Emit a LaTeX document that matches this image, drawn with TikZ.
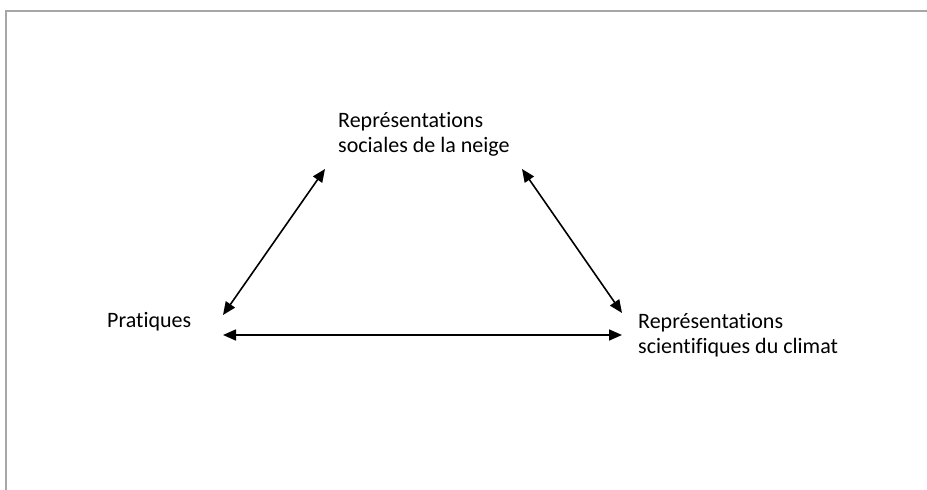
\documentclass[tikz,border=0pt]{standalone}
\usepackage{fontspec}
\setmainfont{Carlito}[Ligatures=NoCommon]
\usetikzlibrary{arrows.meta}
\begin{document}
\begin{tikzpicture}[x=1pt,y=-1pt,
  lbl/.style={anchor=base west,inner sep=0pt,font=\fontsize{22}{25}\selectfont},
  link/.style={line width=1.6pt,{Triangle[length=13pt,width=11pt]}-{Triangle[length=13pt,width=11pt]}}]
\useasboundingbox (0,0) rectangle (927,490);
\fill[white] (0,0) rectangle (927,490);
\draw[line width=2pt,color=black!35] (6,490) -- (6,11) -- (927,11);
\node[lbl] (soc1) at (338,127) {Représentations};
\node[lbl] (soc2) at (338,152) {sociales de la neige};
\node[lbl] (pra) at (107,327) {Pratiques};
\node[lbl] (sci1) at (638,328) {Représentations};
\node[lbl] (sci2) at (638,353) {scientifiques du climat};
\coordinate (a1) at (223,315);
\coordinate (a2) at (325,169);
\coordinate (b1) at (522,169);
\coordinate (b2) at (622,313);
\coordinate (c1) at (223,335);
\coordinate (c2) at (622,335);
\draw[link] (a1) -- (a2);
\draw[link] (b1) -- (b2);
\draw[link] (c1) -- (c2);
\end{tikzpicture}
\end{document}
